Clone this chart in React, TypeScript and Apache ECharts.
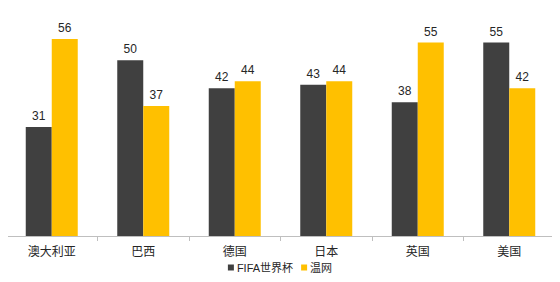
import React, { useEffect, useRef } from "react";
import * as echarts from "echarts";

const categories = ["澳大利亚", "巴西", "德国", "日本", "英国", "美国"];
const fifaValues = [31, 50, 42, 43, 38, 55];
const wimbledonValues = [56, 37, 44, 44, 55, 42];
const seriesNames = ["FIFA世界杯", "温网"];

export default function App() {
  const ref = useRef<HTMLDivElement>(null);
  useEffect(() => {
    const chart = echarts.init(ref.current!, undefined, { renderer: "svg" });
    const font = "Arial, 'Liberation Sans', 'Noto Sans CJK SC', sans-serif";
    const label = {
      show: true,
      position: "top" as const,
      color: "#262626",
      fontSize: 12,
      fontFamily: font,
      distance: 5,
    };
    chart.setOption({
      animation: false,
      backgroundColor: "#ffffff",
      grid: { left: 6, right: 5, top: 25, bottom: 46, containLabel: false },
      legend: {
        bottom: 4,
        left: "center",
        icon: "rect",
        itemWidth: 6,
        itemHeight: 6,
        itemGap: 8,
        textStyle: { fontSize: 11, color: "#262626", fontFamily: font, padding: [0, 0, 0, -2] },
        data: seriesNames,
      },
      xAxis: {
        type: "category",
        data: categories,
        axisLine: { lineStyle: { color: "#bfbfbf" } },
        axisTick: { show: true, length: 5, lineStyle: { color: "#bfbfbf" } },
        axisLabel: { color: "#262626", fontSize: 12, fontFamily: font, margin: 10 },
      },
      yAxis: {
        type: "value",
        min: 0,
        max: 60,
        show: false,
        splitLine: { show: false },
      },
      series: [
        {
          name: seriesNames[0],
          type: "bar",
          data: fifaValues,
          barWidth: 26,
          barGap: "0%",
          itemStyle: { color: "#404040" },
          label,
        },
        {
          name: seriesNames[1],
          type: "bar",
          data: wimbledonValues,
          barWidth: 26,
          barGap: "0%",
          itemStyle: { color: "#FFC000" },
          label,
        },
      ],
    });
    return () => chart.dispose();
  }, []);
  return <div ref={ref} style={{ width: 560, height: 282, margin: -8 }} />;
}
